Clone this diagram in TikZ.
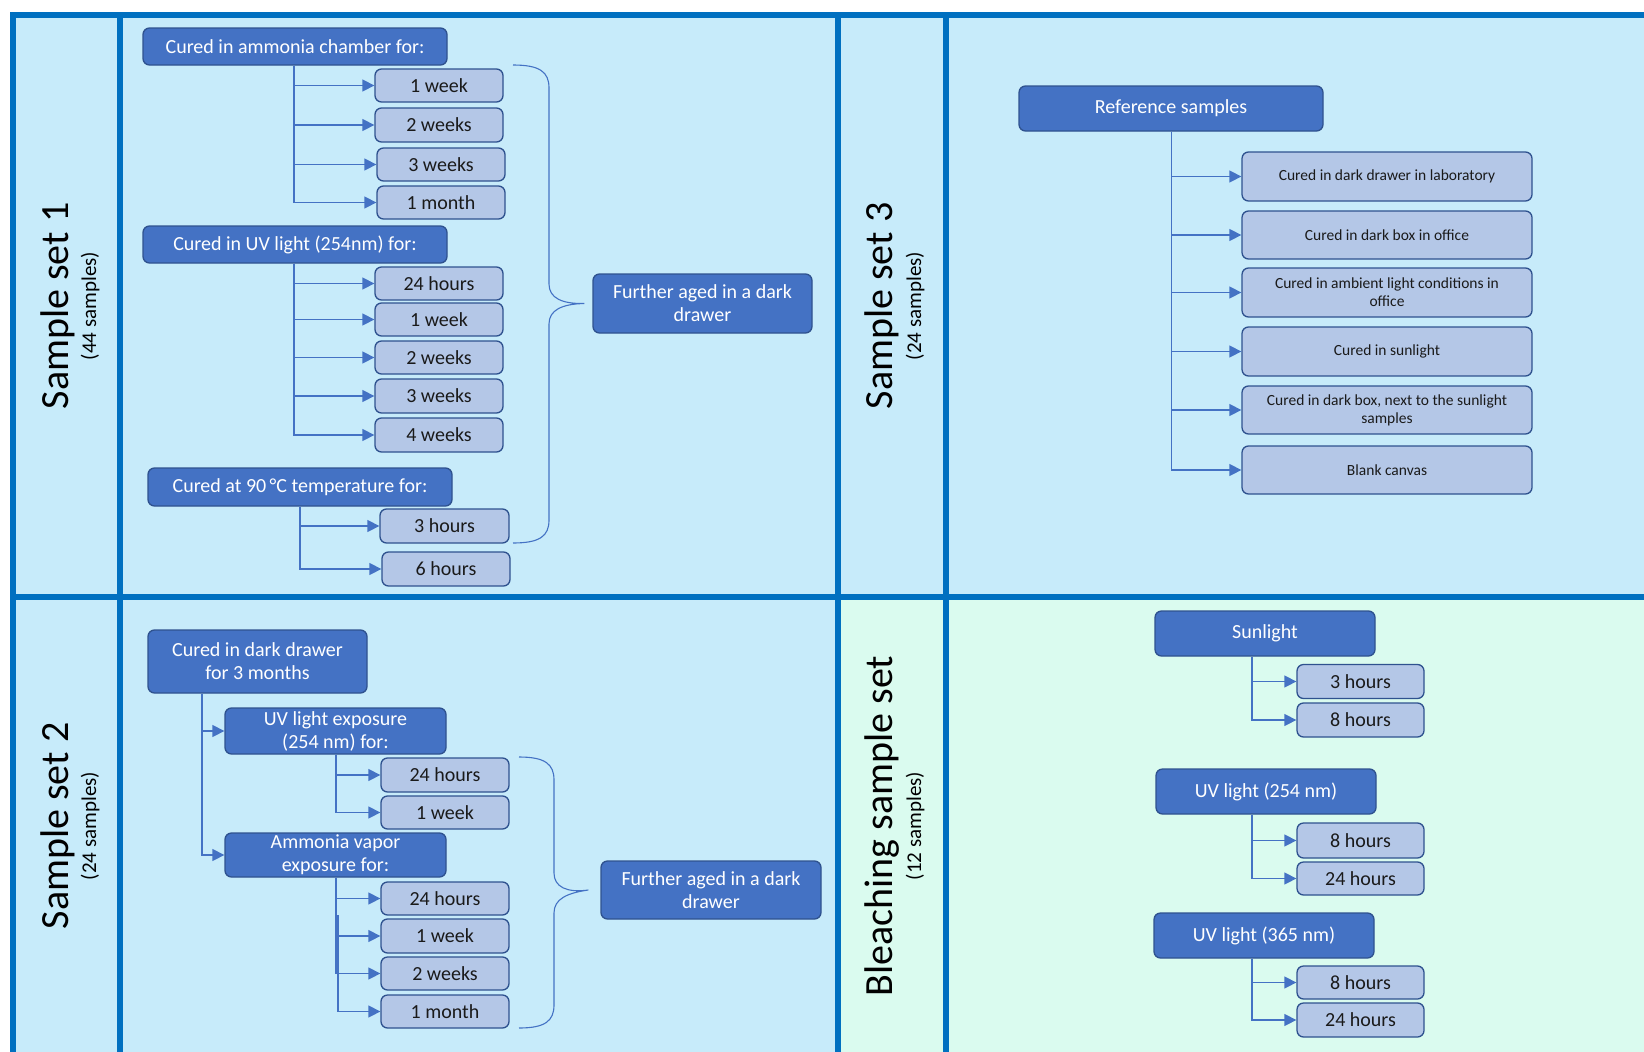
\documentclass[tikz,border=0pt]{standalone}
\usepackage{fontspec}
\setmainfont{Carlito}
\usetikzlibrary{arrows.meta,calc}
\definecolor{frameblue}{HTML}{0070C0}
\definecolor{panelblue}{HTML}{C7EBFA}
\definecolor{panelmint}{HTML}{DAFBEF}
\definecolor{darkfill}{HTML}{4472C4}
\definecolor{darkline}{HTML}{2F528F}
\definecolor{lightfill}{HTML}{B4C7E7}
\definecolor{conncol}{HTML}{4472C4}
\definecolor{textdark}{HTML}{1A1A1A}
\begin{document}
\begin{tikzpicture}[x=1pt,y=-1pt,
  sz/.style 2 args={minimum width=#1pt,minimum height=#2pt},
  dbox/.style={draw=darkline, fill=darkfill, line width=1.3pt, rounded corners=6.5pt, text=white, align=center, inner sep=0pt, font=\fontsize{20}{23}\selectfont},
  lbox/.style={draw=darkline, fill=lightfill, line width=1.3pt, rounded corners=6.5pt, text=textdark, align=center, inner sep=0pt, font=\fontsize{20}{23}\selectfont},
  sbox/.style={lbox, font=\fontsize{15.5}{18}\selectfont},
  conn/.style={draw=conncol, line width=1.4pt, -{Triangle[length=12pt,width=12pt]}},
  bracecol/.style={draw=conncol, line width=1.1pt},
  biglabel/.style={rotate=90, anchor=base, font=\fontsize{40}{48}\selectfont},
  smalllabel/.style={rotate=90, anchor=base, font=\fontsize{21}{25}\selectfont},
  frame/.style={draw=frameblue, line width=6.5pt},
]
\clip (0,0) rectangle (1644,1052);
\fill[white] (0,0) rectangle (1644,1052);
\fill[panelblue] (13,15) rectangle (1644,1052);
\fill[panelmint] (838,597) rectangle (1644,1052);

% frame lines
\draw[frame] (13,1060) -- (13,15) -- (1650,15);
\draw[frame] (120,15) -- (120,1060);
\draw[frame] (838,15) -- (838,1060);
\draw[frame] (946,15) -- (946,1060);
\draw[frame] (13,597) -- (1650,597);

% side labels
\node[biglabel] (l1) at (68,306) {Sample set 1};
\node[smalllabel] (l1s) at (96,306) {(44 samples)};
\node[biglabel] (l2) at (68,826) {Sample set 2};
\node[smalllabel] (l2s) at (96,826) {(24 samples)};
\node[biglabel] (l3) at (892,306) {Sample set 3};
\node[smalllabel] (l3s) at (921,306) {(24 samples)};
\node[biglabel] (l4) at (892,826) {Bleaching sample set};
\node[smalllabel] (l4s) at (921,826) {(12 samples)};

% ---------- Sample set 1 ----------
\node[dbox, sz={304}{37}] (p1) at (295,46.5) {Cured in ammonia chamber for:};
\node[lbox, sz={128}{33}] (c11) at (439,85.5) {1 week};
\node[lbox, sz={128}{34}] (c12) at (439,125) {2 weeks};
\node[lbox, sz={128}{33}] (c13) at (441,164.5) {3 weeks};
\node[lbox, sz={128}{33}] (c14) at (441,202.5) {1 month};
\coordinate (t1) at (294,0);
\foreach \c in {c11,c12,c13,c14} \draw[conn] (t1 |- p1.south) |- (\c.west);

\node[dbox, sz={304}{37}] (p2) at (295,244.5) {Cured in UV light (254nm) for:};
\node[lbox, sz={128}{33}] (c21) at (439,283.5) {24 hours};
\node[lbox, sz={128}{33}] (c22) at (439,319.5) {1 week};
\node[lbox, sz={128}{33}] (c23) at (439,357.5) {2 weeks};
\node[lbox, sz={128}{34}] (c24) at (439,396) {3 weeks};
\node[lbox, sz={128}{34}] (c25) at (439,435) {4 weeks};
\foreach \c in {c21,c22,c23,c24,c25} \draw[conn] (t1 |- p2.south) |- (\c.west);

\node[dbox, sz={304}{38}] (p3) at (300,487) {Cured at 90\,°C temperature for:};
\node[lbox, sz={129}{34}] (c31) at (444.5,526) {3 hours};
\node[lbox, sz={128}{34}] (c32) at (446,569) {6 hours};
\coordinate (t3) at (300,0);
\foreach \c in {c31,c32} \draw[conn] (t3 |- p3.south) |- (\c.west);

\node[dbox, sz={219}{59}] (aged1) at (702.5,303.5) {Further aged in a dark\\drawer};
\draw[bracecol] (513,65) .. controls (540,65) and (549,72) .. (549,88) -- (549,284)
  .. controls (549,298) and (562,304) .. ($(aged1.west)+(-8,0)$)
  .. controls (562,304) and (549,310) .. (549,324) -- (549,520)
  .. controls (549,536) and (540,543) .. (513,543);

% ---------- Sample set 2 ----------
\node[dbox, sz={219}{63}] (q0) at (257.5,661.5) {Cured in dark drawer\\for 3 months};
\node[dbox, sz={221}{46}] (q1) at (335.5,731) {UV light exposure\\(254 nm) for:};
\node[dbox, sz={221}{44}] (q2) at (335.5,855) {Ammonia vapor\\exposure for:};
\coordinate (t4) at (202,0);
\foreach \c in {q1,q2} \draw[conn] (t4 |- q0.south) |- (\c.west);

\node[lbox, sz={128}{34}] (d11) at (445,775) {24 hours};
\node[lbox, sz={128}{33}] (d12) at (445,812.5) {1 week};
\coordinate (t5) at (336,0);
\foreach \c in {d11,d12} \draw[conn] (t5 |- q1.south) |- (\c.west);

\node[lbox, sz={128}{33}] (d21) at (445,898.5) {24 hours};
\node[lbox, sz={128}{34}] (d22) at (445,936) {1 week};
\node[lbox, sz={128}{33}] (d23) at (445,973.5) {2 weeks};
\node[lbox, sz={128}{33}] (d24) at (445,1011.5) {1 month};
\foreach \c in {d21,d22,d23} \draw[conn] (t5 |- q2.south) |- (\c.west);
\coordinate (t6) at (338,915);
\draw[conn] (t6) |- (d24.west);

\node[dbox, sz={220}{58}] (aged2) at (711,890) {Further aged in a dark\\drawer};
\draw[bracecol] (519,757) .. controls (545,757) and (554,764) .. (554,780) -- (554,873)
  .. controls (554,887) and (567,893) .. ($(aged2.west)+(-12,0)$)
  .. controls (567,893) and (554,899) .. (554,913) -- (554,1005)
  .. controls (554,1021) and (545,1028) .. (519,1028);

% ---------- Sample set 3 ----------
\node[dbox, sz={304}{45}] (r0) at (1171,108.5) {Reference samples};
\node[sbox, sz={290}{49}] (r1) at (1387,176.5) {Cured in dark drawer in laboratory};
\node[sbox, sz={290}{48}] (r2) at (1387,235) {Cured in dark box in office};
\node[sbox, sz={290}{49}] (r3) at (1387,292.5) {Cured in ambient light conditions in\\office};
\node[sbox, sz={290}{49}] (r4) at (1387,351.5) {Cured in sunlight};
\node[sbox, sz={290}{48}] (r5) at (1387,410) {Cured in dark box, next to the sunlight\\samples};
\node[sbox, sz={290}{48}] (r6) at (1387,470) {Blank canvas};
\coordinate (t7) at (1171.5,0);
\foreach \c in {r1,r2,r3,r4,r5,r6} \draw[conn] (t7 |- r0.south) |- (\c.west);

% ---------- Bleaching ----------
\coordinate (t8) at (1252,0);
\node[dbox, sz={220}{45}] (s0) at (1265,633.5) {Sunlight};
\node[lbox, sz={127}{34}] (s1) at (1360.5,681.5) {3 hours};
\node[lbox, sz={127}{34}] (s2) at (1360.5,720) {8 hours};
\foreach \c in {s1,s2} \draw[conn] (t8 |- s0.south) |- (\c.west);

\node[dbox, sz={220}{45}] (u0) at (1266,791.5) {UV light (254 nm)};
\node[lbox, sz={127}{35}] (u1) at (1360.5,840.5) {8 hours};
\node[lbox, sz={127}{33}] (u2) at (1360.5,878.5) {24 hours};
\foreach \c in {u1,u2} \draw[conn] (t8 |- u0.south) |- (\c.west);

\node[dbox, sz={220}{45}] (v0) at (1264,935.5) {UV light (365 nm)};
\node[lbox, sz={127}{33}] (v1) at (1360.5,982.5) {8 hours};
\node[lbox, sz={127}{34}] (v2) at (1360.5,1020) {24 hours};
\foreach \c in {v1,v2} \draw[conn] (t8 |- v0.south) |- (\c.west);
\end{tikzpicture}
\end{document}
